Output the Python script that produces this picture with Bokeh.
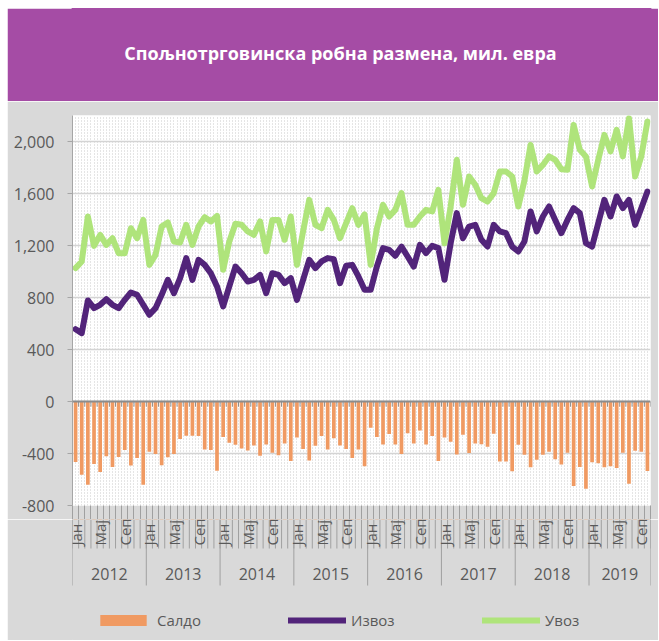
import numpy as np
from bokeh.plotting import figure
from bokeh.layouts import column
from bokeh.models import (Range1d, LinearAxis, FixedTicker, NumeralTickFormatter,
                          Grid, Legend, LegendItem, Label, Span, ColumnDataSource)
from bokeh.embed import file_html
from bokeh.resources import INLINE

# ---------------- data ----------------
TITLE = "Спољнотрговинска робна размена, мил. евра"
YEARS = ["2012", "2013", "2014", "2015", "2016", "2017", "2018", "2019"]
MONTHS_PER_YEAR = [12, 12, 12, 12, 12, 12, 12, 10]
MONTH_NAMES = ["Јан", "Феб", "Мар", "Апр", "Мај", "Јун", "Јул", "Авг", "Сеп", "Окт", "Нов", "Дец"]
SHOWN_MONTHS = ["Јан", "Мај", "Сеп"]
Y_TICKS = [-800, -400, 0, 400, 800, 1200, 1600, 2000]

IZVOZ = [556, 526, 777, 718, 744, 787, 744, 718, 782, 839, 821, 744,
         667, 718, 821, 936, 833, 949, 1103, 936, 1090, 1051, 987, 885,
         731, 885, 1038, 987, 923, 936, 974, 833, 987, 974, 910, 949,
         782, 936, 1090, 1026, 1077, 1103, 1095, 910, 1044, 1051, 962, 859,
         859, 1038, 1180, 1167, 1121, 1192, 1115, 1038, 1205, 1141, 1197, 1180,
         936, 1218, 1449, 1256, 1346, 1359, 1244, 1192, 1359, 1308, 1295, 1192,
         1154, 1231, 1462, 1308, 1423, 1500, 1397, 1295, 1397, 1487, 1449, 1218,
         1192, 1372, 1551, 1423, 1577, 1487, 1551, 1359, 1487, 1615]

UVOZ = [1026, 1077, 1423, 1197, 1282, 1205, 1256, 1141, 1141, 1333, 1256, 1397,
        1051, 1128, 1346, 1377, 1231, 1223, 1359, 1205, 1346, 1418, 1385, 1428,
        1013, 1231, 1367, 1359, 1308, 1282, 1385, 1154, 1397, 1397, 1244, 1423,
        1051, 1310, 1551, 1359, 1333, 1474, 1397, 1256, 1372, 1487, 1359, 1440,
        1051, 1330, 1513, 1423, 1474, 1603, 1359, 1359, 1423, 1474, 1462, 1628,
        1218, 1500, 1859, 1513, 1731, 1667, 1564, 1538, 1603, 1769, 1769, 1731,
        1500, 1700, 1974, 1769, 1820, 1885, 1859, 1787, 1782, 2128, 1936, 1885,
        1654, 1859, 2051, 1923, 2090, 1885, 2180, 1731, 1885, 2154]

SALDO = [-465, -563, -640, -480, -542, -421, -503, -426, -374, -493, -434, -640,
         -387, -403, -490, -428, -403, -289, -263, -263, -266, -369, -374, -532,
         -273, -317, -333, -361, -377, -338, -418, -330, -395, -413, -323, -457,
         -276, -366, -454, -341, -266, -370, -282, -339, -365, -434, -370, -498,
         -201, -273, -330, -250, -330, -403, -245, -323, -224, -330, -266, -457,
         -276, -310, -408, -255, -397, -323, -328, -348, -248, -462, -462, -537,
         -333, -410, -506, -449, -410, -387, -444, -485, -395, -650, -503, -671,
         -467, -475, -506, -498, -511, -395, -632, -379, -387, -534]

# ---------------- styles ----------------
PURPLE_BAND = "#A54CA5"
GRAY_BG = "#D9D9D9"
TEXT = "#595959"
TICK = "#a0a0a0"
C_IZVOZ = "#52247A"
C_UVOZ = "#AFE47B"
C_SALDO = "#F09A62"
FONT = "Open Sans"

W = 651
BORDER_L, BORDER_R = 65, 8
FRAME_W = W - BORDER_L - BORDER_R
EDGE = 14         # strip under the plot frame (room for the "-800" label)

n = len(IZVOZ)
xs = list(range(n))
month_labels = [MONTH_NAMES[m] for cnt in MONTHS_PER_YEAR for m in range(cnt)]
month_bounds = [i - 0.5 for i in range(n + 1)]
year_starts = list(np.cumsum([0] + MONTHS_PER_YEAR[:-1]))
year_bounds = [float(s) - 0.5 for s in year_starts] + [n - 0.5]
year_centers = [float(s + (c - 1) / 2) for s, c in zip(year_starts, MONTHS_PER_YEAR)]
label_pos = [i for i in xs if month_labels[i] in SHOWN_MONTHS]
dot_ticks = list(np.arange(-0.5, n - 0.5 + 0.01, 0.5))

src = ColumnDataSource(dict(x=xs, izvoz=IZVOZ, uvoz=UVOZ, saldo=SALDO))
x_range = Range1d(-0.5, n - 0.5)

def base_fig(height, y_range, xr, bg, border, top=0, bottom=0):
    f = figure(width=W, height=height, x_range=xr, y_range=y_range,
               output_backend="svg", toolbar_location=None,
               x_axis_location=None, y_axis_location=None,
               min_border_left=BORDER_L, min_border_right=BORDER_R,
               min_border_top=top, min_border_bottom=bottom,
               background_fill_color=bg, border_fill_color=border,
               outline_line_color=None)
    f.center = []
    return f

# ---------------- title band ----------------
t = base_fig(93, Range1d(0, 93), Range1d(0, FRAME_W), PURPLE_BAND, PURPLE_BAND)
t.outline_line_color = PURPLE_BAND
t.outline_line_width = 2
t.add_layout(Label(x=268, y=49, text=TITLE, text_align="center", text_baseline="middle",
                   text_color="white", text_font=FONT, text_font_style="bold",
                   text_font_size="18px"))

# ---------------- main chart ----------------
p = base_fig(14 + 390 + EDGE, Range1d(-800, 2200), x_range, "white", GRAY_BG, top=14, bottom=EDGE)

p.add_layout(Grid(dimension=0, ticker=FixedTicker(ticks=dot_ticks), grid_line_color="#cacaca",
                  grid_line_dash="1 2", grid_line_width=1), "center")
p.add_layout(Grid(dimension=1, ticker=FixedTicker(ticks=Y_TICKS), grid_line_color="#d4d4d4",
                  grid_line_width=1.5), "center")

bars = p.vbar(x="x", top="saldo", bottom=0, width=0.6, source=src,
              fill_color=C_SALDO, line_color=None)
p.add_layout(Span(location=0, dimension="width", line_color="#8c8c8c", line_width=2))
p.segment(x0=month_bounds, x1=month_bounds, y0=[0] * len(month_bounds),
          y1=[-40] * len(month_bounds), line_color="#8c8c8c", line_width=1)
l_uvoz = p.line("x", "uvoz", source=src, line_color=C_UVOZ, line_width=6,
                line_join="round", line_cap="round")
l_izvoz = p.line("x", "izvoz", source=src, line_color=C_IZVOZ, line_width=6,
                 line_join="round", line_cap="round")

yax = LinearAxis(ticker=FixedTicker(ticks=Y_TICKS), formatter=NumeralTickFormatter(format="0,0"),
                 axis_line_color="#a6a6a6", major_tick_line_color="#a6a6a6",
                 major_tick_out=5, major_tick_in=0, minor_tick_line_color=None,
                 major_label_text_font=FONT, major_label_text_font_size="16px",
                 major_label_text_color=TEXT, major_label_standoff=13)
p.add_layout(yax, "left")

edge_ax = LinearAxis(ticker=FixedTicker(ticks=[], minor_ticks=month_bounds),
                     axis_line_color=None, major_tick_line_color=None,
                     major_tick_out=EDGE, major_tick_in=0, major_label_standoff=0,
                     minor_tick_line_color=TICK, minor_tick_out=EDGE, minor_tick_in=0)
p.add_layout(edge_ax, "below")

# ---------------- category axis + legend ----------------
AX_H = 135 - EDGE
a = base_fig(AX_H, Range1d(-AX_H, 0), x_range, GRAY_BG, GRAY_BG)
a.outline_line_color = GRAY_BG

a.segment(x0=month_bounds, x1=month_bounds, y0=[0] * len(month_bounds),
          y1=[-(43 - EDGE)] * len(month_bounds), line_color=TICK, line_width=1)
a.segment(x0=year_bounds, x1=year_bounds, y0=[0] * len(year_bounds),
          y1=[-(80 - EDGE)] * len(year_bounds), line_color=TICK, line_width=1)
a.text(x=label_pos, y=[-(40 - EDGE)] * len(label_pos), text=[month_labels[i] for i in label_pos],
       angle=np.pi / 2, text_align="left", text_baseline="middle",
       text_font={"value": FONT}, text_font_size="15px", text_color=TEXT)
a.text(x=year_centers, y=[-(68 - EDGE)] * len(year_centers), text=YEARS,
       text_align="center", text_baseline="middle",
       text_font={"value": FONT}, text_font_size="16px", text_color=TEXT)

# legend proxies: same series, drawn outside this strip's value range
lg_bar = a.vbar(x="x", top="uvoz", bottom="izvoz", width=0.6, source=src,
                fill_color=C_SALDO, line_color=None)
lg_iz = a.line("x", "izvoz", source=src, line_color=C_IZVOZ, line_width=6, line_cap="round")
lg_uv = a.line("x", "uvoz", source=src, line_color=C_UVOZ, line_width=6, line_cap="round")

legend = Legend(items=[LegendItem(label="Салдо", renderers=[lg_bar]),
                       LegendItem(label="Извоз", renderers=[lg_iz]),
                       LegendItem(label="Увоз", renderers=[lg_uv])],
                orientation="horizontal", location=(22, 10),
                glyph_width=58, glyph_height=14, label_standoff=5, label_width=100,
                spacing=31, padding=0, margin=0, border_line_color=None,
                background_fill_alpha=0, label_text_font=FONT, label_text_font_size="15px",
                label_text_color=TEXT)
a.add_layout(legend, "center")

layout = column(t, p, a, spacing=0, margin=(8, 0, 0, 7))
open("out.html", "w").write(file_html(layout, INLINE))
